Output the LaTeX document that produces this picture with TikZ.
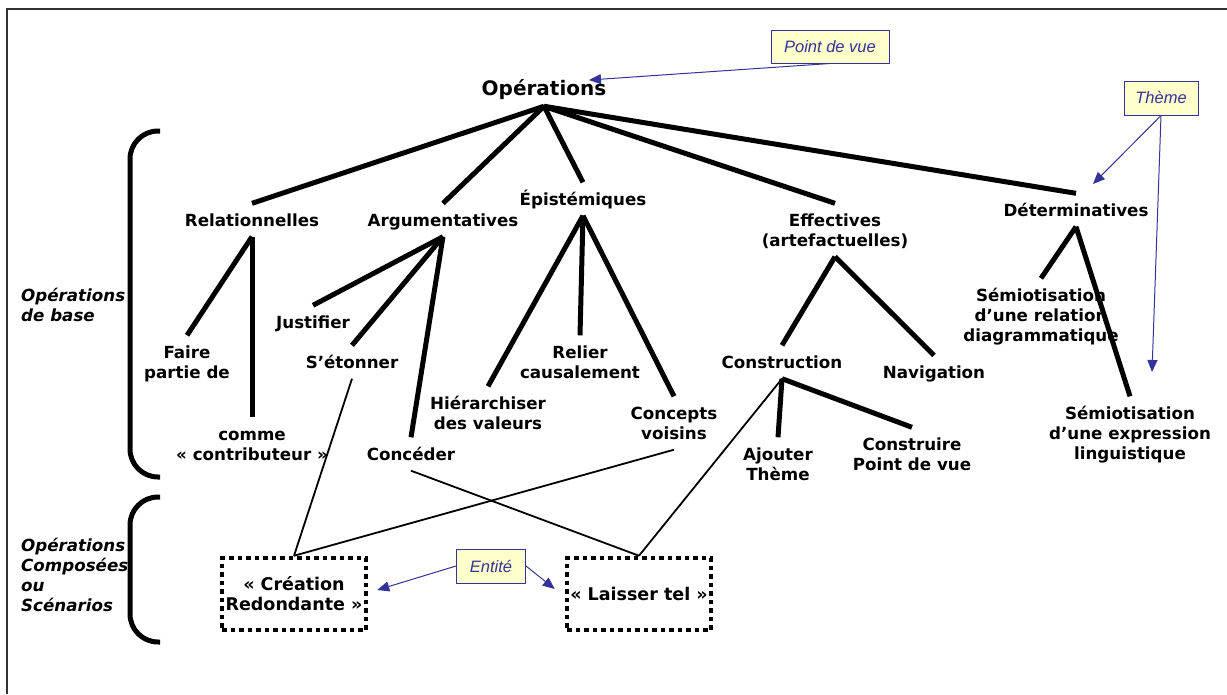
\documentclass[tikz,border=0pt]{standalone}
\usepackage{fontspec}
\setmainfont{DejaVu Sans}
\newfontfamily\arialfont{Liberation Sans}
\usetikzlibrary{arrows.meta}
\newcommand\ms{\rule[-4pt]{0pt}{20pt}}
\definecolor{noteblue}{HTML}{333399}
\definecolor{notefill}{HTML}{FFFFCC}
\tikzset{
  lab/.style={font=\bfseries\fontsize{16.7}{20}\selectfont, align=center, inner xsep=2pt, inner ysep=6.5pt},
  sidelab/.style={font=\bfseries\itshape\fontsize{16.7}{20}\selectfont, align=left, inner xsep=2pt, inner ysep=0pt, anchor=west},
  treeline/.style={line width=5pt},
  thinlink/.style={line width=1.8pt},
  bracket/.style={line width=5pt, rounded corners=28pt},
  note/.style={draw=noteblue, fill=notefill, line width=1pt, font=\arialfont\itshape\fontsize{16.5}{20}\selectfont, text=noteblue, minimum height=34pt, inner sep=0pt},
  notearrow/.style={draw=noteblue, line width=1pt, -{Triangle[length=12pt,width=10pt]}},
  scen/.style={draw, line width=4.5pt, dash pattern=on 4.5pt off 4pt, minimum width=144pt, minimum height=72pt, align=center, inner sep=0pt, font=\bfseries\fontsize{17.5}{20}\selectfont},
  frameline/.style={line width=1.5pt, draw=black!80}
}
\begin{document}
\begin{tikzpicture}[x=1pt,y=-1pt]
\useasboundingbox (0,0) rectangle (1227,694);
\fill[white] (0,0) rectangle (1227,694);
\draw[frameline] (7,694) -- (7,9) -- (1227,9);

% nodes
\node[lab, font=\bfseries\fontsize{20}{24}\selectfont, inner ysep=6pt] (ops) at (544,90) {\ms Opérations};
\node[lab] (rel) at (252,220) {\ms Relationnelles};
\node[lab] (arg) at (443,220) {\ms Argumentatives};
\node[lab] (epi) at (583,199) {\ms Épistémiques};
\node[lab] (eff) at (835,230) {\ms Effectives\\\ms (artefactuelles)};
\node[lab] (det) at (1076,210) {\ms Déterminatives};

\node[lab] (faire) at (187,362) {\ms Faire\\\ms partie de};
\node[lab] (comme) at (252,444) {\ms comme\\\ms « contributeur »};
\node[lab] (just) at (313,322) {\ms Justifier};
\node[lab] (eton) at (352,362) {\ms S’étonner};
\node[lab] (conc) at (411,454) {\ms Concéder};
\node[lab] (hier) at (488,413) {\ms Hiérarchiser\\\ms des valeurs};
\node[lab] (relier) at (580,362) {\ms Relier\\\ms causalement};
\node[lab] (cv) at (674,423) {\ms Concepts\\\ms voisins};
\node[lab] (constr) at (782,362) {\ms Construction};
\node[lab] (nav) at (934,372) {\ms Navigation};
\node[lab] (ajout) at (778,464) {\ms Ajouter\\\ms Thème};
\node[lab] (constp) at (912,454) {\ms Construire\\\ms Point de vue};
\node[lab] (srel) at (1041,315) {\ms Sémiotisation\\\ms d’une relation\\\ms diagrammatique};
\node[lab] (sexp) at (1130,433) {\ms Sémiotisation\\\ms d’une expression\\\ms linguistique};

\node[sidelab] (base) at (19,305) {\ms Opérations\\\ms de base};
\node[sidelab] (comp) at (19,575.5) {\ms Opérations\\\ms Composées\\\ms ou\\\ms Scénarios};

\node[scen] (cr) at (294,594) {« Création\\Redondante »};
\node[scen] (lt) at (639,594) {« Laisser tel »};

\node[note, minimum width=118pt, minimum height=33pt] (pdv) at (830,46.5) {Point de vue};
\node[note, minimum width=74pt] (theme) at (1161,98) {Thème};
\node[note, minimum width=69pt] (ent) at (491,566) {Entité};

% tree
\draw[treeline] (ops.south) -- (rel.north);
\draw[treeline] (ops.south) -- (arg.north);
\draw[treeline] (ops.south) -- (epi.north);
\draw[treeline] (ops.south) -- (eff.north);
\draw[treeline] (ops.south) -- (det.north);
\draw[treeline] (rel.south) -- (faire.north);
\draw[treeline] (rel.south) -- (comme.north);
\draw[treeline] (arg.south) -- (just.north);
\draw[treeline] (arg.south) -- (eton.north);
\draw[treeline] (arg.south) -- (conc.north);
\draw[treeline] (epi.south) -- (hier.north);
\draw[treeline] (epi.south) -- (relier.north);
\draw[treeline] (epi.south) -- (cv.north);
\draw[treeline] (eff.south) -- (constr.north);
\draw[treeline] (eff.south) -- (nav.north);
\draw[treeline] (constr.south) -- (ajout.north);
\draw[treeline] (constr.south) -- (constp.north);
\draw[treeline] (det.south) -- (srel.north);
\draw[treeline] (det.south) -- (sexp.north);

% thin links
\draw[thinlink] (eton.south) -- (cr.north);
\draw[thinlink] (cv.south) -- (cr.north);
\draw[thinlink] (conc.south) -- (lt.north);
\draw[thinlink] (constr.south) -- (lt.north);

% brackets
\draw[bracket] (160,131) -- (130,131) -- (130,477) -- (160,477);
\draw[bracket] (160,497) -- (130,497) -- (130,642) -- (160,642);

% note arrows
\draw[notearrow] (pdv.south) -- ([shift={(45,-10)}]ops.center);
\draw[notearrow] (theme.south) -- ([shift={(17,-26)}]det.center);
\draw[notearrow] (theme.south) -- ([shift={(22,-61)}]sexp.center);
\draw[notearrow] (ent.west) -- ([shift={(9,-4)}]cr.east);
\draw[notearrow] (ent.east) -- ([shift={(-10,-5)}]lt.west);
\end{tikzpicture}
\end{document}
